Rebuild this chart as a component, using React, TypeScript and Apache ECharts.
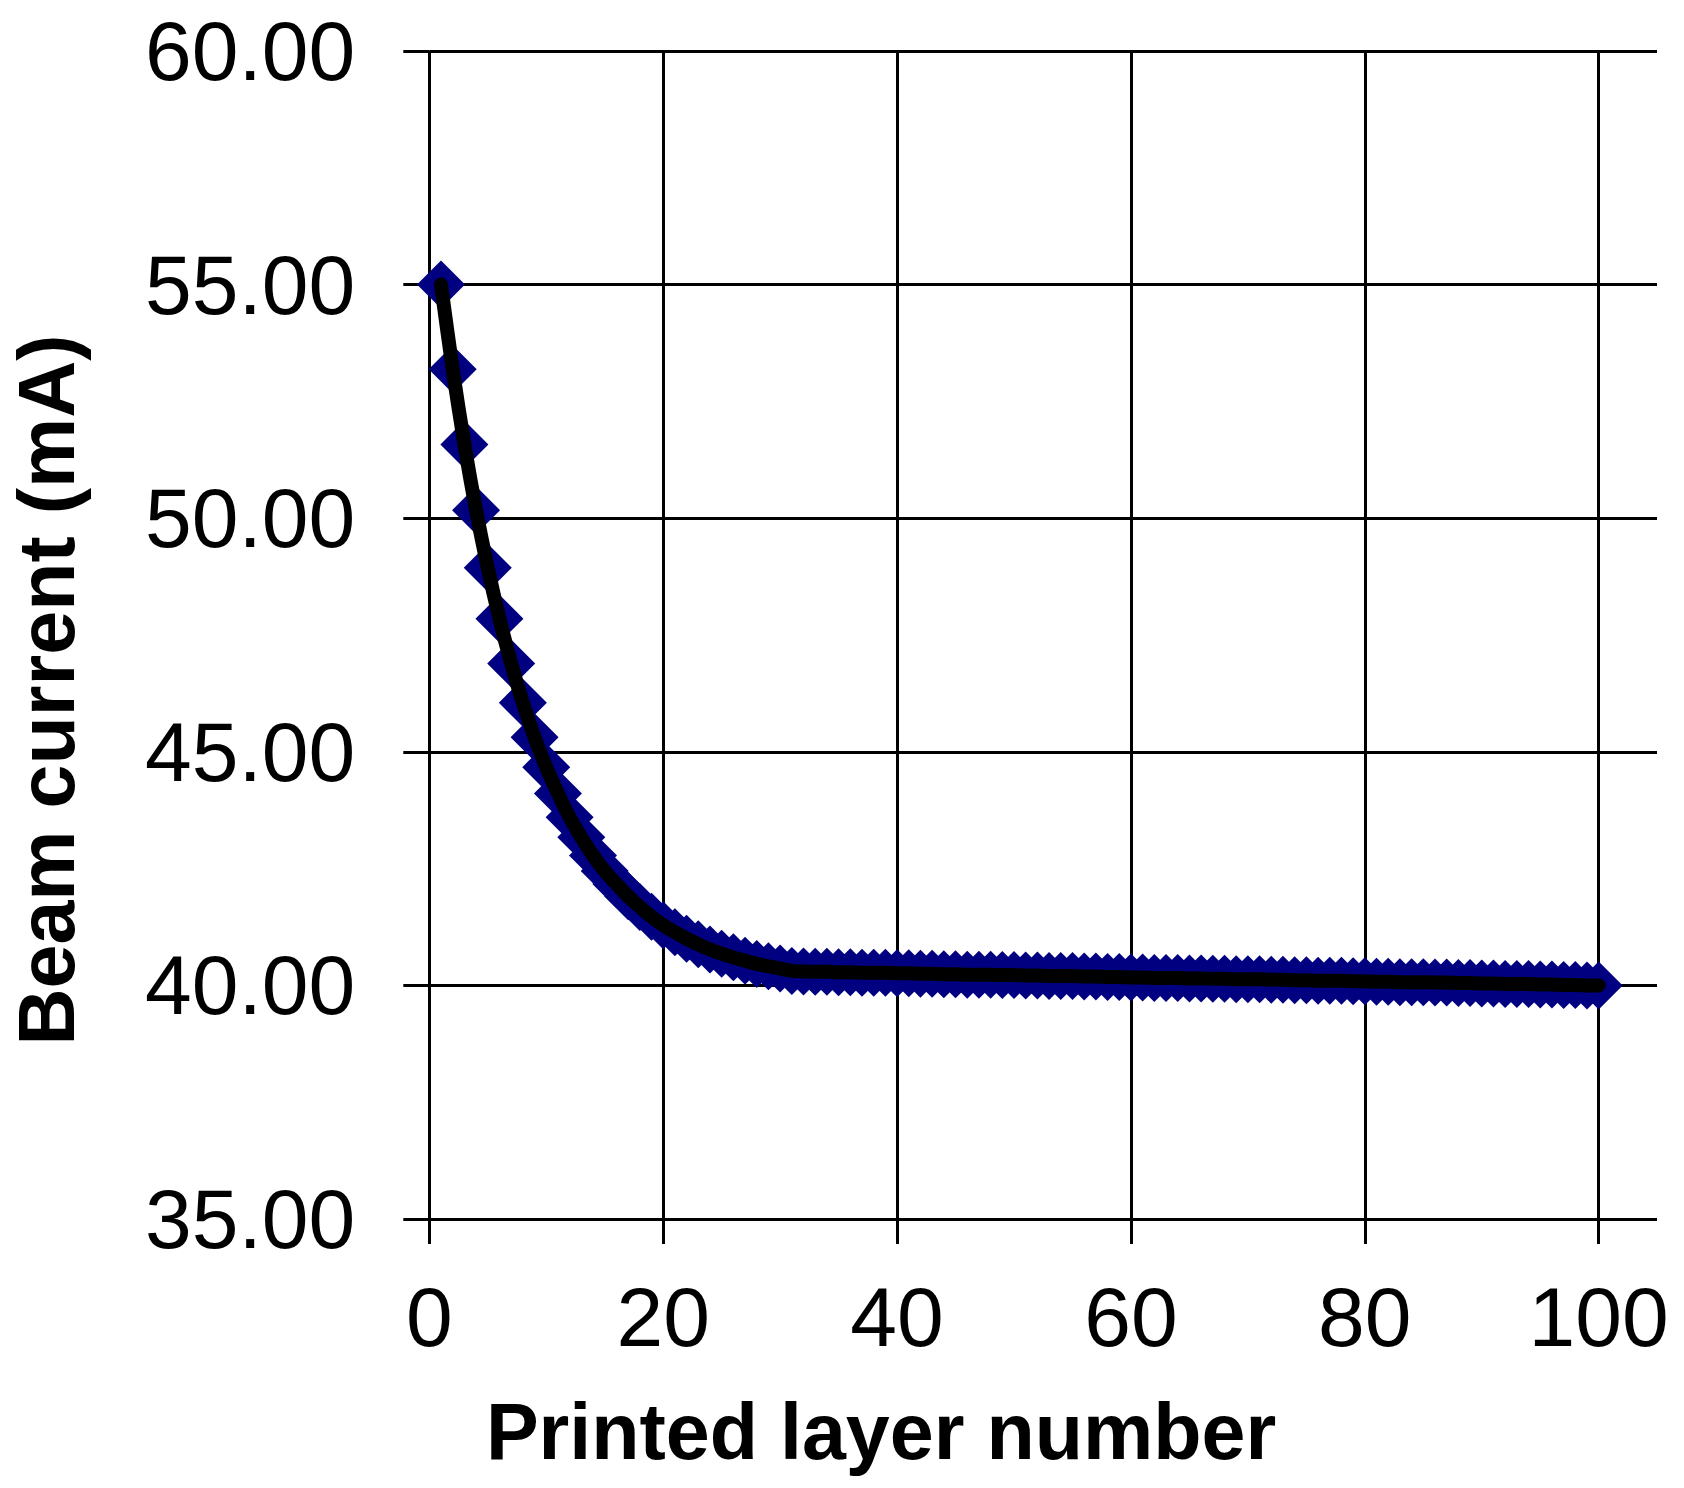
import React, { useEffect, useRef } from "react";
import * as echarts from "echarts";

// Printed layer numbers 1..100
const layerNumbers: number[] = Array.from({ length: 100 }, (_, i) => i + 1);

// Beam current (mA), layers 1..100
const beamCurrent: number[] = [
  55.0, 53.19, 51.58, 50.17, 48.94, 47.85, 46.89, 46.05, 45.31, 44.67,
  44.11, 43.6, 43.17, 42.78, 42.45, 42.17, 41.91, 41.68, 41.47, 41.29,
  41.14, 41.0, 40.88, 40.77, 40.68, 40.6, 40.53, 40.46, 40.41, 40.36,
  40.31, 40.3, 40.29, 40.29, 40.28, 40.28, 40.27, 40.27, 40.27, 40.26,
  40.26, 40.25, 40.25, 40.24, 40.24, 40.23, 40.23, 40.23, 40.22, 40.22,
  40.21, 40.21, 40.2, 40.2, 40.2, 40.19, 40.19, 40.18, 40.18, 40.17,
  40.17, 40.16, 40.16, 40.16, 40.15, 40.15, 40.14, 40.14, 40.13, 40.13,
  40.13, 40.12, 40.12, 40.11, 40.11, 40.1, 40.1, 40.1, 40.09, 40.09,
  40.08, 40.08, 40.07, 40.07, 40.07, 40.06, 40.06, 40.05, 40.05, 40.04,
  40.04, 40.03, 40.03, 40.03, 40.02, 40.02, 40.01, 40.01, 40.0, 40.0,
];

const xTicks: number[] = [0, 20, 40, 60, 80, 100];
const yTicks: number[] = [35, 40, 45, 50, 55, 60];
const xExtentMax = 105;
const xTitle = "Printed layer number";
const yTitle = "Beam current (mA)";

export default function App() {
  const ref = useRef<HTMLDivElement>(null);

  useEffect(() => {
    if (!ref.current) return;
    const chart = echarts.init(ref.current, null, { renderer: "svg" });
    const font = "'Liberation Sans', Arial, Helvetica, sans-serif";
    const pts = layerNumbers.map((x, i) => [x, beamCurrent[i]]);

    const gridL = 429.3;
    const gridT = 51;
    const gridH = 1168;
    const plotW = 1169.4;
    const extW = 1227.7;
    const lineCol = "#000";
    const lw = 3;

    const xInterval = xTicks[1] - xTicks[0];
    const yInterval = yTicks[1] - yTicks[0];

    chart.setOption({
      animation: false,
      backgroundColor: "#ffffff",
      grid: [
        { left: gridL, top: gridT, width: plotW, height: gridH },
        { left: gridL, top: gridT, width: extW, height: gridH },
      ],
      xAxis: [
        {
          type: "value",
          gridIndex: 0,
          min: xTicks[0],
          max: xTicks[xTicks.length - 1],
          interval: xInterval,
          axisLine: { show: false },
          axisTick: {
            show: true,
            inside: false,
            length: 25,
            lineStyle: { color: lineCol, width: lw },
          },
          axisLabel: {
            margin: 56,
            fontSize: 84,
            color: "#000",
            fontFamily: font,
          },
          splitLine: { show: true, lineStyle: { color: lineCol, width: lw } },
        },
        {
          type: "value",
          gridIndex: 1,
          min: xTicks[0],
          max: xExtentMax,
          show: false,
        },
      ],
      yAxis: [
        {
          type: "value",
          gridIndex: 0,
          min: yTicks[0],
          max: yTicks[yTicks.length - 1],
          interval: yInterval,
          show: false,
        },
        {
          type: "value",
          gridIndex: 1,
          min: yTicks[0],
          max: yTicks[yTicks.length - 1],
          interval: yInterval,
          axisLine: { show: false },
          axisTick: {
            show: true,
            inside: false,
            length: 26,
            lineStyle: { color: lineCol, width: lw },
          },
          axisLabel: {
            margin: 74,
            fontSize: 84,
            color: "#000",
            fontFamily: font,
            formatter: (v: number) => v.toFixed(2),
          },
          splitLine: { show: true, lineStyle: { color: lineCol, width: lw } },
        },
      ],
      series: [
        {
          type: "scatter",
          xAxisIndex: 0,
          yAxisIndex: 0,
          data: pts,
          symbol: "diamond",
          symbolSize: 48,
          itemStyle: { color: "#000080", opacity: 1 },
          clip: false,
          z: 2,
          emphasis: { disabled: true },
        },
        {
          type: "line",
          xAxisIndex: 0,
          yAxisIndex: 0,
          data: pts,
          showSymbol: false,
          symbol: "none",
          smooth: 0.3,
          lineStyle: { color: "#000", width: 14, cap: "round", join: "round", opacity: 1 },
          clip: false,
          z: 3,
          emphasis: { disabled: true },
        },
      ],
      graphic: [
        {
          type: "text",
          x: 881,
          y: 1431,
          style: {
            text: xTitle,
            fontSize: 79,
            fontWeight: "bold",
            fontFamily: font,
            fill: "#000",
            align: "center",
            verticalAlign: "middle",
          },
        },
        {
          type: "text",
          x: 46,
          y: 690,
          rotation: Math.PI / 2,
          style: {
            text: yTitle,
            fontSize: 79,
            fontWeight: "bold",
            fontFamily: font,
            fill: "#000",
            align: "center",
            verticalAlign: "middle",
          },
        },
      ],
    });

    return () => chart.dispose();
  }, []);

  return (
    <div
      ref={ref}
      style={{ position: "absolute", left: 0, top: 0, width: 1684, height: 1488 }}
    />
  );
}
